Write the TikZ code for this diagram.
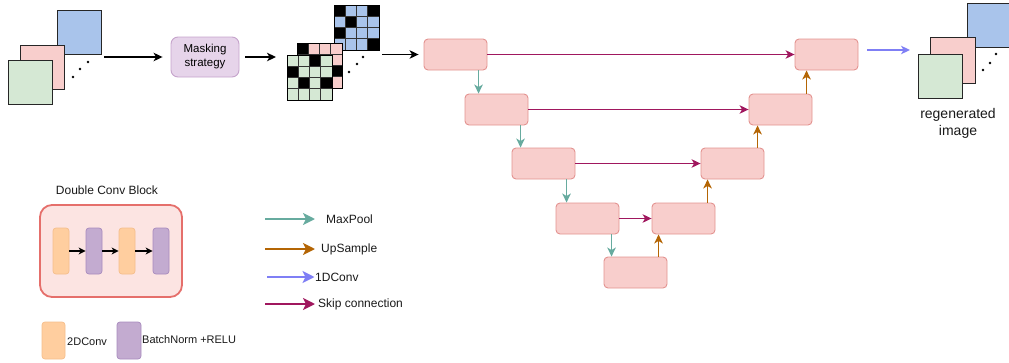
\documentclass[tikz,border=0pt]{standalone}
\usepackage{fontspec}
\setmainfont{Liberation Sans}
\usetikzlibrary{arrows.meta,calc}
\definecolor{uFill}{HTML}{F8CECC}
\definecolor{uStroke}{HTML}{E39390}
\definecolor{maskFill}{HTML}{E6D4EA}
\definecolor{maskStroke}{HTML}{C5A3CB}
\definecolor{blueF}{HTML}{A9C4EB}
\definecolor{pinkF}{HTML}{F8CECC}
\definecolor{greenF}{HTML}{D5E8D4}
\definecolor{dcbFill}{HTML}{FCE4E2}
\definecolor{dcbStroke}{HTML}{E56F6B}
\definecolor{orangeF}{HTML}{FFCE9F}
\definecolor{orangeS}{HTML}{F5BE8C}
\definecolor{purpleF}{HTML}{C3ABD0}
\definecolor{purpleS}{HTML}{A88BBE}
\definecolor{poolC}{HTML}{67AB9F}
\definecolor{upC}{HTML}{B46504}
\definecolor{convC}{HTML}{7F7FF5}
\definecolor{skipC}{HTML}{A0175E}
\begin{document}
\begin{tikzpicture}[x=1pt,y=-1pt,
  ublock/.style={draw=uStroke, fill=uFill, rounded corners=4, minimum width=63, minimum height=31, line width=0.9, inner sep=0},
  img/.style={draw=black!85, line width=0.9, minimum width=44, minimum height=44, inner sep=0},
  cell/.style={draw=black!80, line width=0.6},
  arr/.style={-{Stealth[length=9pt,width=8.5pt,inset=2.5pt]}, line width=1.3},
  leg/.style={-{Stealth[length=12pt,width=12pt,inset=3pt]}, line width=2.2},
  blk/.style={arr, draw=black},
  pool/.style={arr, draw=poolC},
  upar/.style={arr, draw=upC},
  conv/.style={arr, draw=convC},
  skip/.style={arr, draw=skipC},
  txt/.style={font=\fontsize{12}{14}\selectfont, inner sep=0, text=black!90},
  obar/.style={draw=orangeS, fill=orangeF, rounded corners=3, minimum width=16, minimum height=46, inner sep=0, line width=0.7},
  pbar/.style={draw=purpleS, fill=purpleF, rounded corners=3, minimum width=16, minimum height=46, inner sep=0, line width=0.7},
  small/.style={-{Stealth[length=7pt,width=7pt,inset=2pt]}, line width=1.3, draw=black}
]
\useasboundingbox (0,0) rectangle (1009,362);

% ---------- input images ----------
\node[img, fill=blueF] (inB) at (79.5,32.5) {};
\node[img, fill=pinkF] (inP) at (42.5,67) {};
\node[img, fill=greenF] (inG) at (30,82.5) {};
\fill (88,62) circle (1.3) (80,69) circle (1.3) (73,77) circle (1.3);

% ---------- masking strategy ----------
\node[draw=maskStroke, fill=maskFill, rounded corners=7, minimum width=68, minimum height=40, line width=0.9, align=center, font=\fontsize{11.5}{14}\selectfont, inner sep=0] (mask) at (205,57) {Masking\\strategy};
\coordinate (a1s) at (104,57);
\draw[blk, shorten >=8] (a1s) -- (mask.west);
\coordinate (a2e) at (276,57);
\draw[blk, shorten <=6] (mask.east) -- (a2e);

% ---------- masked grids ----------
\foreach \f [count=\i from 0] in {black,blueF,blueF,black, blueF,black,blueF,blueF, black,blueF,blueF,blueF, blueF,blueF,blueF,black}{
  \pgfmathtruncatemacro\cc{mod(\i,4)}\pgfmathtruncatemacro\rr{div(\i,4)}
  \draw[cell, fill=\f] (334+\cc*11.25, 5+\rr*11.25) rectangle ++(11.25,11.25);
}
\draw[line width=0.9] (334,5) rectangle ++(45,45);
\foreach \f [count=\i from 0] in {black,pinkF,pinkF,pinkF, pinkF,pinkF,pinkF,pinkF, pinkF,pinkF,pinkF,black, pinkF,pinkF,pinkF,pinkF}{
  \pgfmathtruncatemacro\cc{mod(\i,4)}\pgfmathtruncatemacro\rr{div(\i,4)}
  \draw[cell, fill=\f] (297+\cc*11.25, 43+\rr*11.25) rectangle ++(11.25,11.25);
}
\draw[line width=0.9] (297,43) rectangle ++(45,45);
\foreach \f [count=\i from 0] in {greenF,greenF,black,greenF, black,greenF,greenF,greenF, greenF,black,greenF,black, greenF,greenF,greenF,greenF}{
  \pgfmathtruncatemacro\cc{mod(\i,4)}\pgfmathtruncatemacro\rr{div(\i,4)}
  \draw[cell, fill=\f] (287+\cc*11.25, 55+\rr*11.25) rectangle ++(11.25,11.25);
}
\draw[line width=0.9] (287,55) rectangle ++(45,45);
\fill (363,57) circle (1.3) (357,64) circle (1.3) (349,72) circle (1.3);

% ---------- U-Net ----------
\node[ublock] (E1) at (455.5,54.5) {};
\node[ublock] (E2) at (496.5,109.5) {};
\node[ublock] (E3) at (543.5,163.5) {};
\node[ublock] (E4) at (587.5,218.5) {};
\node[ublock] (B)  at (635.5,272.5) {};
\node[ublock] (D4) at (683.5,218.5) {};
\node[ublock] (D3) at (732.5,163.5) {};
\node[ublock] (D2) at (780.5,109.5) {};
\node[ublock] (D1) at (826.5,54.5) {};

\coordinate (a3s) at (382,54.5);
\draw[blk, shorten >=5] (a3s) -- (E1.west);

\draw[skip] (E1.east) -- (D1.west);
\draw[skip] (E2.east) -- (D2.west);
\draw[skip] (E3.east) -- (D3.west);
\draw[skip] (E4.east) -- (D4.west);

\coordinate (p1) at ([xshift=55]E1.south west);
\coordinate (p2) at ([xshift=56]E2.south west);
\coordinate (p3) at ([xshift=55]E3.south west);
\coordinate (p4) at ([xshift=56]E4.south west);
\draw[pool] (p1) -- (p1 |- E2.north);
\draw[pool] (p2) -- (p2 |- E3.north);
\draw[pool] (p3) -- (p3 |- E4.north);
\draw[pool] (p4) -- (p4 |- B.north);

\coordinate (u1) at ([xshift=55]B.north west);
\coordinate (u2) at ([xshift=56]D4.north west);
\coordinate (u3) at ([xshift=57]D3.north west);
\coordinate (u4) at ([xshift=58]D2.north west);
\draw[upar] (u1) -- (u1 |- D4.south);
\draw[upar] (u2) -- (u2 |- D3.south);
\draw[upar] (u3) -- (u3 |- D2.south);
\draw[upar] (u4) -- (u4 |- D1.south);

\coordinate (o1e) at (910,50);
\draw[conv, shorten <=9] ([yshift=4.5]D1.east) -- (o1e);

% ---------- output images ----------
\node[img, fill=blueF] (outB) at (989,25) {};
\node[img, fill=pinkF, minimum width=45, minimum height=46] (outP) at (952.5,60) {};
\node[img, fill=greenF] (outG) at (940,76) {};
\fill (996,54) circle (1.3) (990,63) circle (1.3) (983,70) circle (1.3);
\node[align=center, font=\fontsize{14}{16.5}\selectfont, inner sep=0, text=black!90] (regen) at (958,123.5) {regenerated\\image};

% ---------- Double Conv Block ----------
\node[txt] (dtitle) at (107,190) {Double Conv Block};
\node[draw=dcbStroke, fill=dcbFill, rounded corners=12, minimum width=142, minimum height=92, line width=1.8, inner sep=0] (dcb) at (111,251) {};
\node[obar] (b1) at (61,251) {};
\node[pbar] (b2) at (94,251) {};
\node[obar] (b3) at (127,251) {};
\node[pbar] (b4) at (161,251) {};
\draw[small] (b1) -- (b2);
\draw[small] (b2) -- (b3);
\draw[small] (b3) -- (b4);

\node[obar, minimum width=23, minimum height=37] (lo) at (53.5,340.5) {};
\node[pbar, minimum width=24, minimum height=37] (lp) at (129,340.5) {};
\node[txt, font=\fontsize{11}{13}\selectfont, anchor=west] (t2d) at (67,342) {2DConv};
\node[txt, font=\fontsize{11}{13}\selectfont, anchor=west] (tbn) at (142,340) {BatchNorm +RELU};

% ---------- legend ----------
\node[txt, anchor=west] (tMax) at (326,219) {MaxPool};
\node[txt, anchor=west] (tUp) at (321,249) {UpSample};
\node[txt, anchor=west] (tConv) at (315,277) {1DConv};
\node[txt, anchor=west] (tSkip) at (318,304) {Skip connection};
\coordinate (lm) at (265,219);
\coordinate (lu) at (265,249);
\coordinate (lc) at (267,277);
\coordinate (ls) at (265,304);
\draw[pool, leg, shorten >=11] (lm) -- (tMax.west);
\draw[upar, leg, shorten >=6] (lu) -- (tUp.west);
\draw[conv, leg, shorten >=0.5] (lc) -- (tConv.west);
\draw[skip, leg, shorten >=3] (ls) -- (tSkip.west);
\end{tikzpicture}
\end{document}
